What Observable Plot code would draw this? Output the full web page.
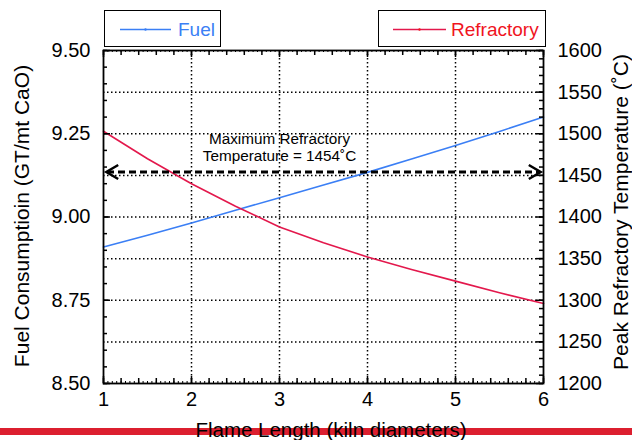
<!DOCTYPE html>
<html>
<head>
<meta charset="utf-8">
<script src="https://cdn.jsdelivr.net/npm/d3@7"></script>
<script src="https://cdn.jsdelivr.net/npm/@observablehq/plot@0.6"></script>
<style>
  html, body { margin: 0; padding: 0; background: #fff; }
  #wrap { position: relative; width: 632px; height: 440px; overflow: hidden;
          font-family: "Liberation Sans", Arial, sans-serif; color: #000; }
  #wrap svg.plot { position: absolute; left: 0; top: 0; }
  .legend { position: absolute; top: 10px; height: 37px; box-sizing: border-box;
            border: 1.5px solid #000; background: #fff; }
  .legend svg { position: absolute; left: 0; top: 0; }
  .legend span { position: absolute; top: 8px; font-size: 19px; line-height: 22px; }
  .ytitle { position: absolute; font-size: 21px; white-space: nowrap;
            transform: translate(-50%, -50%) rotate(-90deg); }
  #bar { position: absolute; left: 0; top: 428px; width: 632px; height: 7px; background: #dc1f2f; }
  #xtitle { position: absolute; left: 331px; top: 430px; transform: translate(-50%, -50%);
            font-size: 20.5px; white-space: nowrap; }
</style>
</head>
<body>
<div id="wrap"></div>
<script>
// Flame length (kiln diameters)
const flame = [1, 1.5, 2, 2.5, 3, 3.5, 4, 4.5, 5, 5.5, 6];
// Fuel consumption (GT/mt CaO)
const fuel = [8.910, 8.945, 8.982, 9.020, 9.058, 9.096, 9.134, 9.174, 9.215, 9.257, 9.300];
// Peak refractory temperature (°C)
const refractory = [1503, 1470, 1440, 1413, 1388, 1369, 1352, 1337, 1323, 1309, 1296];

const maxTemp = 1454;
const flameTicks = [1, 2, 3, 4, 5, 6];
const fuelTicks = [8.5, 8.75, 9.0, 9.25, 9.5];
const tempTicks = [1200, 1250, 1300, 1350, 1400, 1450, 1500, 1550, 1600];

// The temperature axis shares the vertical scale: 1200–1600 °C spans 8.50–9.50
const toFuel = t => 8.5 + (t - tempTicks[0]) / (tempTicks[tempTicks.length - 1] - tempTicks[0]);
const toTemp = v => tempTicks[0] + (v - 8.5) * (tempTicks[tempTicks.length - 1] - tempTicks[0]);

const fuelData = flame.map((x, i) => ({x, v: fuel[i]}));
const refData = flame.map((x, i) => ({x, v: toFuel(refractory[i])}));

const W = 632, H = 440, mL = 103, mR = 89, mT = 50, mB = 57;
const innerW = W - mL - mR, innerH = H - mT - mB;

const fuelColor = "#3b7ff5";
const refColor = "#e3184c";

// Open chevron symbols for the ends of the limit line
const chevron = dir => ({
  draw(context, size) {
    const k = Math.sqrt(size / Math.PI);
    context.moveTo(dir * 2.1 * k, -k);
    context.lineTo(dir * 0.4 * k, 0);
    context.lineTo(dir * 2.1 * k, k);
  }
});

const minorX = d3.range(1, 6.0001, 0.2).map(d => +d.toFixed(2));
const fineX = d3.range(1, 6.0001, 0.05).map(d => +d.toFixed(2));
const minorY = d3.range(8.5, 9.5001, 0.05).map(d => +d.toFixed(3));
const minorT = d3.range(1200, 1601, 10);
const gridTemps = tempTicks.slice(1, -1);

const chart = Plot.plot({
  width: W, height: H,
  marginLeft: mL, marginRight: mR, marginTop: mT, marginBottom: mB,
  x: {domain: [flame[0], flame[flame.length - 1]]},
  y: {domain: [fuelTicks[0], fuelTicks[fuelTicks.length - 1]]},
  style: {fontFamily: "'Liberation Sans', Arial, sans-serif", fontSize: "20px", color: "#000", background: "transparent", overflow: "visible"},
  marks: [
    // dotted grid
    Plot.ruleX(flameTicks.slice(1, -1), {stroke: "#000", strokeWidth: 1.5, strokeDasharray: "1.5,2.5"}),
    Plot.ruleY(gridTemps, {y: toFuel, stroke: "#000", strokeWidth: 1.5, strokeDasharray: "1.5,2.5"}),

    // series
    Plot.line(fuelData, {x: "x", y: "v", stroke: fuelColor, strokeWidth: 1.6}),
    Plot.line(refData, {x: "x", y: "v", stroke: refColor, strokeWidth: 1.6}),

    // maximum refractory temperature limit
    Plot.ruleY([maxTemp], {y: toFuel, stroke: "#000", strokeWidth: 3, strokeDasharray: "7,4", insetLeft: 4, insetRight: 4}),
    Plot.dot([flame[0]], {x: d => d, y: () => toFuel(maxTemp), r: 7, symbol: chevron(1), fill: "none", stroke: "#000", strokeWidth: 2.5}),
    Plot.dot([flame[flame.length - 1]], {x: d => d, y: () => toFuel(maxTemp), r: 7, symbol: chevron(-1), fill: "none", stroke: "#000", strokeWidth: 2.5}),
    Plot.text([maxTemp], {
      x: () => 3, y: d => toFuel(d),
      text: d => `Maximum Refractory\nTemperature = ${d}˚C`,
      lineAnchor: "bottom", dy: -11, fontSize: 15.3, lineHeight: 1.13, fill: "#000", textAnchor: "middle"
    }),

    // inward ticks: left (fuel) and right (temperature)
    Plot.tickY(minorY, {y: d => d, stroke: "#000", strokeWidth: 1.5, insetRight: innerW - 4}),
    Plot.tickY(fuelTicks, {y: d => d, stroke: "#000", strokeWidth: 1.5, insetRight: innerW - 7}),
    Plot.tickY(minorT, {y: toFuel, stroke: "#000", strokeWidth: 1.5, insetLeft: innerW - 4}),
    Plot.tickY(tempTicks, {y: toFuel, stroke: "#000", strokeWidth: 1.5, insetLeft: innerW - 7}),
    // inward ticks: bottom and top
    Plot.tickX(fineX, {x: d => d, stroke: "#000", strokeWidth: 1, insetTop: innerH - 2}),
    Plot.tickX(fineX, {x: d => d, stroke: "#000", strokeWidth: 1, insetBottom: innerH - 2}),
    Plot.tickX(minorX, {x: d => d, stroke: "#000", strokeWidth: 1.5, insetTop: innerH - 5}),
    Plot.tickX(minorX, {x: d => d, stroke: "#000", strokeWidth: 1.5, insetBottom: innerH - 5}),
    Plot.tickX(flameTicks, {x: d => d, stroke: "#000", strokeWidth: 1.5, insetTop: innerH - 7}),
    Plot.tickX(flameTicks, {x: d => d, stroke: "#000", strokeWidth: 1.5, insetBottom: innerH - 7}),

    Plot.frame({stroke: "#000", strokeWidth: 1.8}),

    // tick labels
    Plot.axisY(fuelTicks, {anchor: "left", tickSize: 0, tickPadding: 13, tickFormat: d3.format(".2f"), fontSize: 20, label: null}),
    Plot.axisY(tempTicks.map(toFuel), {anchor: "right", tickSize: 0, tickPadding: 14, tickFormat: v => String(Math.round(toTemp(v))), fontSize: 20, label: null}),
    Plot.axisX(flameTicks, {anchor: "bottom", tickSize: 0, tickPadding: 8, fontSize: 20, label: null})
  ]
});

const wrap = document.getElementById("wrap");
wrap.appendChild(chart);

// legends
function legend(left, width, color, textColor, label, lineFrom, lineTo, textLeft) {
  const box = document.createElement("div");
  box.className = "legend";
  box.style.left = left + "px";
  box.style.width = width + "px";
  const mid = (lineFrom + lineTo) / 2;
  box.innerHTML =
    `<svg width="${width}" height="37"><line x1="${lineFrom}" x2="${lineTo}" y1="18.5" y2="18.5" stroke="${color}" stroke-width="1.6"/>` +
    `<circle cx="${mid}" cy="18.5" r="1.2" fill="${textColor}"/></svg>` +
    `<span style="left:${textLeft}px;color:${textColor}">${label}</span>`;
  wrap.appendChild(box);
}
legend(104, 117, fuelColor, "#3b7ff5", "Fuel", 15, 66, 73);
legend(378, 168, refColor, "#f0141e", "Refractory", 14, 67, 72);

// axis titles
const yl = document.createElement("div");
yl.className = "ytitle";
yl.style.left = "22px"; yl.style.top = "216px";
yl.textContent = "Fuel Consumptioin (GT/mt CaO)";
wrap.appendChild(yl);

const yr = document.createElement("div");
yr.className = "ytitle";
yr.style.left = "621px"; yr.style.top = "212px";
yr.textContent = "Peak Refractory Temperature (˚C)";
wrap.appendChild(yr);

const bar = document.createElement("div");
bar.id = "bar";
wrap.appendChild(bar);

const xt = document.createElement("div");
xt.id = "xtitle";
xt.textContent = "Flame Length (kiln diameters)";
wrap.appendChild(xt);
</script>
</body>
</html>
